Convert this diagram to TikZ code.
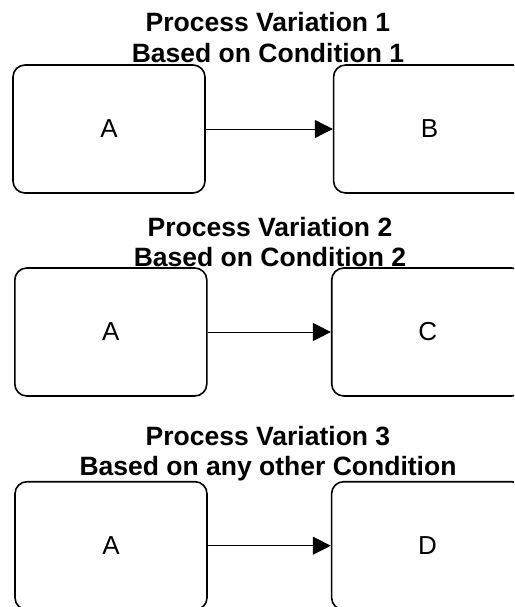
\documentclass[tikz,border=0pt]{standalone}
\usepackage{fontspec}
\setmainfont{Liberation Sans}
\usetikzlibrary{arrows.meta, positioning}

\begin{document}
\begin{tikzpicture}[x=1pt, y=-1pt,
			stage/.style={draw, line width=1.6pt, rounded corners=12pt,
				minimum width=192pt, minimum height=128pt, inner sep=0pt,
				font=\fontsize{26}{30}\selectfont},
			ttl/.style={align=center, inner sep=0pt,
				font=\bfseries\fontsize{26.5}{30.5}\selectfont},
			flow/.style={-{Triangle[length=18pt, width=18pt]}, line width=1pt}
			]
			\useasboundingbox (0,0) rectangle (514,607);
			\clip (0,0) rectangle (514,607);
			
			\node[stage] (a1) at (109,129) {A};
			\node[stage, right=127pt of a1] (b1) {B};
			\node[ttl] (t1) at (268,37.7) {Process Variation 1\\Based on Condition 1};
			
			\node[stage] (a2) at (110.8,332) {A};
			\node[stage, right=123.3pt of a2] (c2) {C};
			\node[ttl] (t2) at (270,242) {Process Variation 2\\Based on Condition 2};
			
			\node[stage] (a3) at (111,545.7) {A};
			\node[stage, right=123pt of a3] (d3) {D};
			\node[ttl] (t3) at (268,453.5) {Process Variation 3\\Based on any other Condition};
			
			\draw[flow] (a1) -- (b1);
			\draw[flow] (a2) -- (c2);
			\draw[flow] (a3) -- (d3);
	\end{tikzpicture}
\end{document}
